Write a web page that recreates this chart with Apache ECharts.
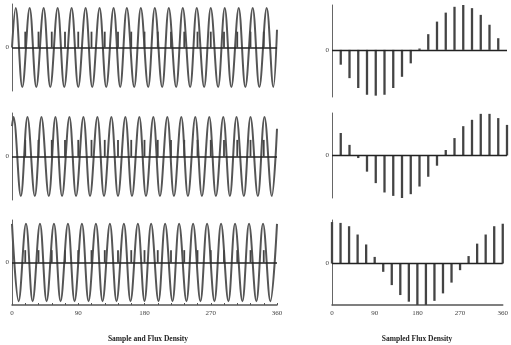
<!DOCTYPE html>
<html><head><meta charset="utf-8">
<script src="https://cdn.jsdelivr.net/npm/echarts@6/dist/echarts.min.js"></script>
<style>html,body{margin:0;padding:0;background:#fff}#c{width:511px;height:345px}</style>
</head><body><div id="c"></div>
<script>
// sample angles (deg), k = 0..20
const sampleDeg = [0,18,36,54,72,90,108,126,144,162,180,198,216,234,252,270,288,306,324,342,360];
const xTickLabels = ['0','90','180','270','360'];
const titles = ['Sample and Flux Density', 'Sampled Flux Density'];

// right column: sampled flux density at each sample angle
const sampled1 = [null,-0.33,-0.63,-0.85,-1.0,-1.02,-1.0,-0.85,-0.6,-0.3,0.03,0.35,0.63,0.83,0.96,1.0,0.93,0.78,0.56,0.26,null];
const sampled2 = [null,0.53,0.25,-0.06,-0.38,-0.65,-0.87,-0.95,-1.0,-0.91,-0.73,-0.5,-0.24,0.13,0.41,0.69,0.84,0.98,0.98,0.88,0.72];
const sampled3 = [1.0,0.98,0.9,0.7,0.46,0.16,-0.2,-0.52,-0.76,-0.92,-1.0,-1.0,-0.9,-0.72,-0.46,-0.16,0.18,0.48,0.7,0.9,0.96];

// left column: sample pulses
const pulse1 = [null,0.4,0.4,0.4,0.4,0.4,0.4,0.4,0.4,0.4,0.4,0.4,0.4,0.4,0.4,0.4,0.4,0.4,0.4,0.4,null];
const pulse2 = [null,0.42,0.42,0.42,0.42,0.42,0.42,0.42,0.42,0.42,0.42,0.42,0.42,0.42,0.42,0.42,0.42,0.42,0.42,0.42,null];
const pulse3 = [null,0.32,0.32,0.32,0.32,0.32,0.32,0.32,0.32,0.32,0.32,0.32,0.32,0.32,0.32,0.32,0.32,0.32,0.32,0.32,null];

// left column: flux density wave, positions (deg) of peaks (+1) and troughs (-1), and end values
const wave1Peaks   = [5,24,43,62,81,100,119,138,156,175,194,213,232,251,270,289,308,327,346];
const wave1Troughs = [14,33,52,71,90,109,128,147,166,185,204,223,242,261,280,298,317,336,355];
const wave1Ends    = [0, 0.45];
const wave2Peaks   = [2,21,40,59,78,97,116,135,154,173,192,211,230,249,268,287,305,324,343];
const wave2Troughs = [12,31,50,68,87,106,125,144,163,182,201,220,239,258,277,296,315,334,353];
const wave2Ends    = [0.77, 0.7];
const wave3Peaks   = [0,19,38,57,76,95,114,133,152,171,189,208,227,246,265,284,303,322,341,360];
const wave3Troughs = [9,28,47,66,85,104,123,142,161,180,199,218,237,256,275,294,313,332,351];
const wave3Ends    = [null, null];

function buildWave(peaks, troughs, ends) {
  const pts = peaks.map(x => [x, 1]).concat(troughs.map(x => [x, -1]));
  if (ends[0] !== null) pts.push([0, ends[0]]);
  if (ends[1] !== null) pts.push([360, ends[1]]);
  pts.sort((a, b) => a[0] - b[0]);
  return pts;
}
function stems(vals) {
  const out = [];
  vals.forEach((v, i) => { if (v !== null) out.push([sampleDeg[i], v]); });
  return out;
}

const labelFont = { fontFamily: 'Liberation Serif', fontSize: 7, color: '#444' };
const L = 12, LW = 265, R = 332, RW = 175;
const grids = [
  { left: L, top: 4,   width: LW, height: 87 },
  { left: L, top: 113, width: LW, height: 87 },
  { left: L, top: 220, width: LW, height: 85 },
  { left: R, top: 5,   width: RW, height: 92 },
  { left: R, top: 113, width: RW, height: 85 },
  { left: R, top: 220, width: RW, height: 85 }
];
const yRanges = [[-1.1,1.1,1.1],[-1.1,1.1,1.1],[-1.1,1.1,1.1],[-1.05,1.0,1.05],[-1,1,1],[-1,1.05,1]];

const xAxes = grids.map((g, i) => {
  const bottom = (i === 2 || i === 5);
  const left = i < 3;
  return {
    gridIndex: i, type: 'value', min: 0, max: 360,
    interval: left ? 18 : 90,
    axisLine: { show: bottom, onZero: false, lineStyle: { color: '#555', width: 1.5 } },
    axisTick: { show: bottom && left, inside: true, length: 2, lineStyle: { color: '#555' } },
    axisLabel: {
      show: bottom, margin: 5, ...labelFont,
      formatter: v => (v % 90 === 0 ? xTickLabels[v / 90] : '')
    },
    splitLine: { show: false }
  };
});
const yAxes = grids.map((g, i) => ({
  gridIndex: i, type: 'value', min: yRanges[i][0], max: yRanges[i][1], interval: yRanges[i][2],
  axisLine: { show: true, lineStyle: { color: '#666', width: 1 } },
  axisTick: { show: false },
  splitLine: { show: false },
  axisLabel: { margin: 3, ...labelFont, formatter: v => (Math.abs(v) < 1e-9 ? '0' : '') }
}));

const zeroLine = (w) => ({
  silent: true, symbol: 'none', label: { show: false },
  lineStyle: { color: '#222', width: w, type: 'solid' },
  data: [{ yAxis: 0 }]
});

const waves = [
  buildWave(wave1Peaks, wave1Troughs, wave1Ends),
  buildWave(wave2Peaks, wave2Troughs, wave2Ends),
  buildWave(wave3Peaks, wave3Troughs, wave3Ends)
];
const pulses = [pulse1, pulse2, pulse3];
const samples = [sampled1, sampled2, sampled3];

const series = [];
for (let i = 0; i < 3; i++) {
  series.push({
    type: 'line', xAxisIndex: i, yAxisIndex: i, data: waves[i], smooth: 0.37,
    symbol: 'none', lineStyle: { color: '#555', width: 2 }, z: 2,
    markLine: zeroLine(1.6)
  });
  series.push({
    type: 'bar', xAxisIndex: i, yAxisIndex: i, data: stems(pulses[i]), barWidth: 1.8,
    itemStyle: { color: '#444' }, z: 3
  });
  series.push({
    type: 'bar', xAxisIndex: i + 3, yAxisIndex: i + 3, data: stems(samples[i]), barWidth: 2.3,
    itemStyle: { color: '#444' }, z: 3,
    markLine: zeroLine(1.3)
  });
}

const chart = echarts.init(document.getElementById('c'), null, { renderer: 'canvas' });
chart.setOption({
  animation: false,
  backgroundColor: '#fff',
  grid: grids,
  xAxis: xAxes,
  yAxis: yAxes,
  title: [
    { text: titles[0], left: 143, top: 330, textAlign: 'center',
      textStyle: { fontFamily: 'Liberation Serif', fontSize: 7.5, fontWeight: 'bold', color: '#222' } },
    { text: titles[1], left: 412, top: 330, textAlign: 'center',
      textStyle: { fontFamily: 'Liberation Serif', fontSize: 7.5, fontWeight: 'bold', color: '#222' } }
  ],
  series: series
});
</script></body></html>
